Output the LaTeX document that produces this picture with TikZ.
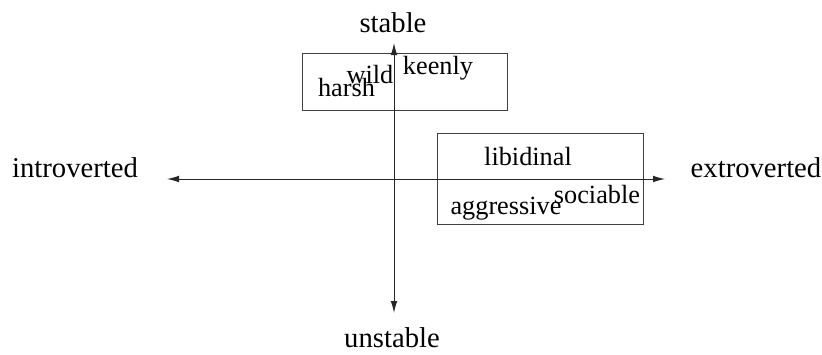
\documentclass[tikz,border=0pt]{standalone}
\usepackage{fontspec}
\setmainfont{Liberation Serif}
\usetikzlibrary{arrows.meta}
\begin{document}
\begin{tikzpicture}[x=0.75pt,y=-0.75pt,
  axislabel/.style={anchor=base,inner sep=0pt,font=\fontsize{21.5}{24}\selectfont},
  word/.style={anchor=base,inner sep=0pt,font=\fontsize{19.7}{22}\selectfont},
  region/.style={draw=black!75,line width=0.75pt,inner sep=0pt,rectangle},
  axis/.style={draw=black!85,line width=0.75pt,{Latex[length=9pt,width=5pt]}-{Latex[length=9pt,width=5pt]}}]
\useasboundingbox (0,0) rectangle (822,354);
% regions
\node[region,minimum width=153.75pt,minimum height=43.1pt] (r1) at (404.5,81.75) {};
\node[region,minimum width=154.5pt,minimum height=68.25pt] (r2) at (540,178.5) {};
% axis ends
\coordinate (top) at (394,43);
\coordinate (bottom) at (394,313);
\coordinate (left) at (167,179);
\coordinate (right) at (665,179);
\draw[axis] (left) -- (right);
\draw[axis] (bottom) -- (top);
% axis labels
\node[axislabel] (stable) at (393,32) {stable};
\node[axislabel] (unstable) at (392,347) {unstable};
\node[axislabel] (intro) at (75,177) {introverted};
\node[axislabel] (extro) at (756,177) {extroverted};
% words
\node[word] (wild) at (370,83) {wild};
\node[word] (harsh) at (346.5,96.5) {harsh};
\node[word] (keenly) at (438,74) {keenly};
\node[word] (libidinal) at (528,165) {libidinal};
\node[word] (sociable) at (597,203) {sociable};
\node[word] (aggressive) at (506,214) {aggressive};
\end{tikzpicture}
\end{document}
